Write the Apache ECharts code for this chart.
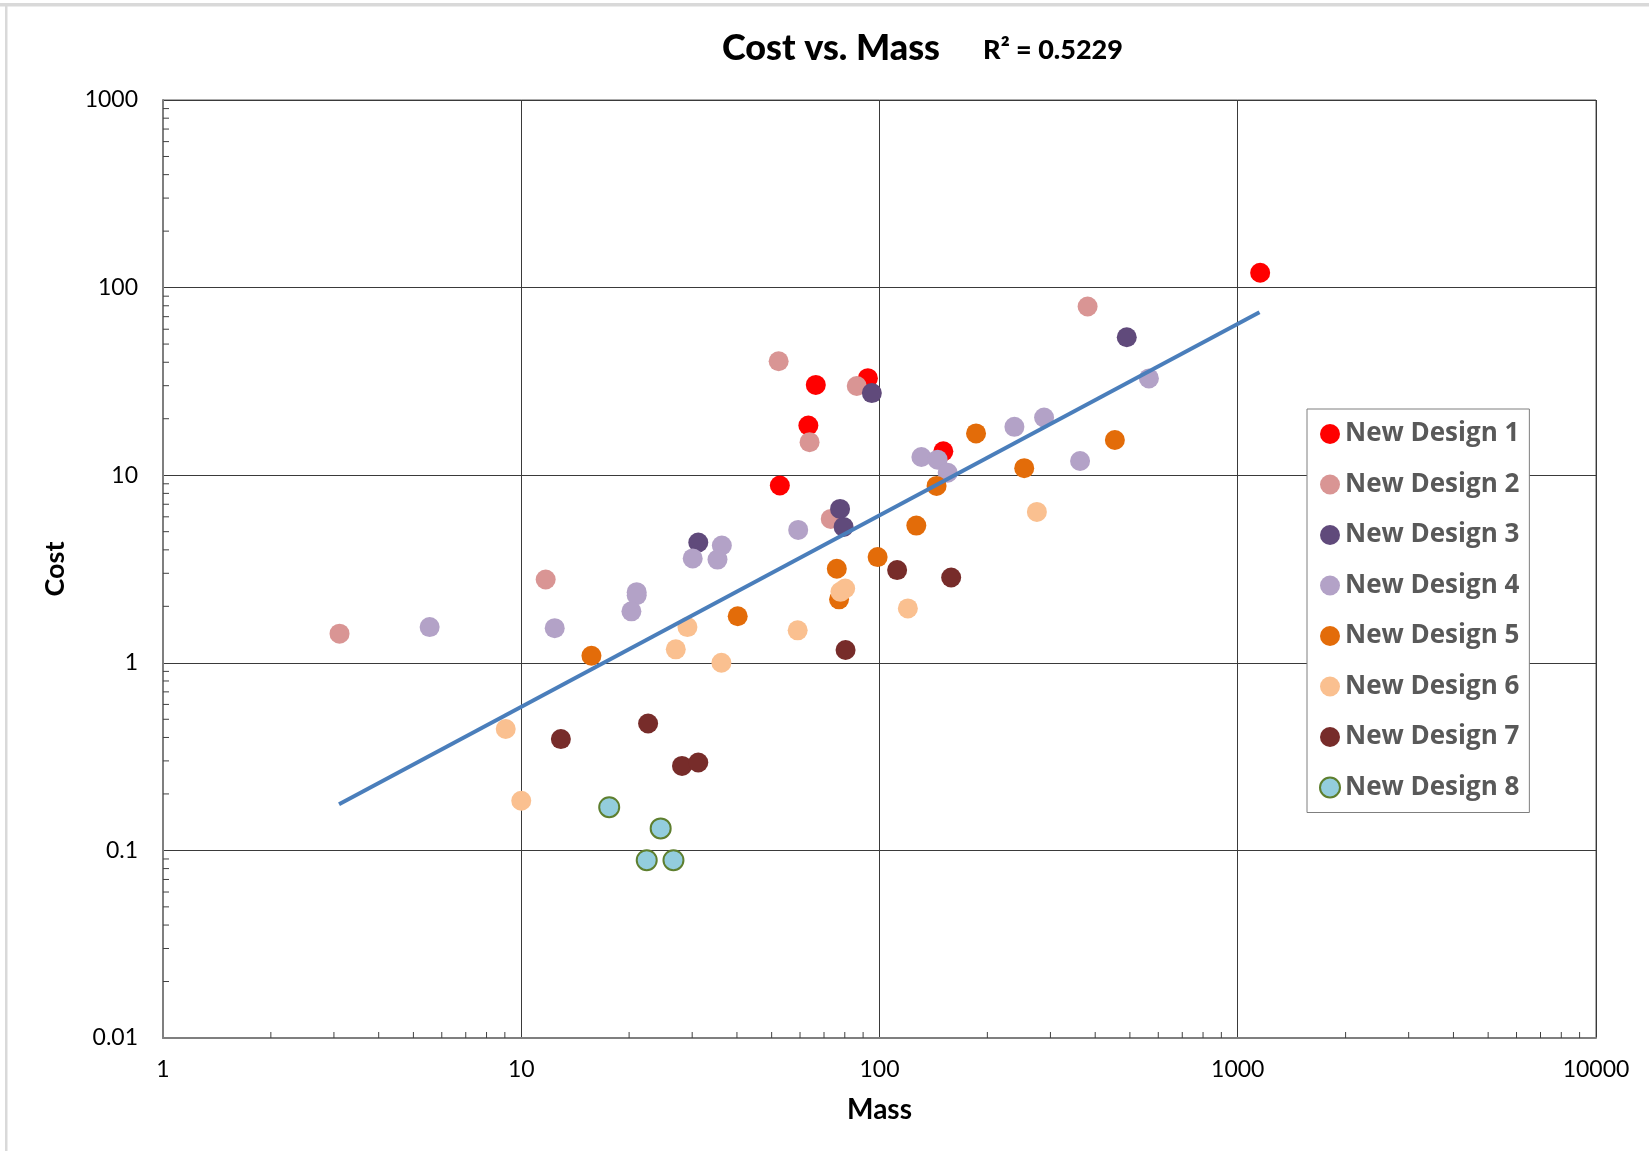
<!DOCTYPE html>
<html>
<head>
<meta charset="utf-8">
<script src="https://cdn.jsdelivr.net/npm/echarts@6/dist/echarts.min.js"></script>
<style>
html,body{margin:0;padding:0;background:#fff;}
#chart{width:1649px;height:1151px;}
</style>
</head>
<body>
<div id="chart"></div>
<script>
// ---- Data (Mass, Cost) ----
const seriesNames = ['New Design 1','New Design 2','New Design 3','New Design 4','New Design 5','New Design 6','New Design 7','New Design 8'];
const design1 = [[1155,120],[66.4,30.3],[92.8,32.9],[63.3,18.4],[150.7,13.4],[52.7,8.81]];
const design2 = [[3.11,1.43],[11.7,2.78],[381,79.3],[52.3,40.5],[86.4,29.9],[63.8,15.0],[73.1,5.85]];
const design3 = [[31.2,4.38],[490,54.4],[95.2,27.4],[77.6,6.61],[79.4,5.30]];
const design4 = [[5.55,1.55],[12.4,1.53],[21.0,2.38],[21.0,2.29],[20.3,1.88],[36.3,4.22],[30.1,3.60],[35.3,3.55],[565,32.8],[130.9,12.5],[145.3,12.1],[155,10.3],[238,18.1],[288,20.3],[363,11.9],[59.3,5.11]];
const design5 = [[15.7,1.09],[40.2,1.77],[144.3,8.77],[186,16.7],[454,15.4],[253.5,10.9],[126.7,5.39],[98.8,3.66],[76.0,3.17],[77.1,2.18]];
const design6 = [[29.1,1.55],[27.0,1.18],[36.2,1.0],[275,6.37],[80.2,2.49],[77.8,2.39],[120,1.95],[59.1,1.49],[9.05,0.444],[10.0,0.184]];
const design7 = [[112,3.12],[158.5,2.85],[80.4,1.17],[12.9,0.392],[22.6,0.475],[28.1,0.282],[31.2,0.294]];
const design8 = [[17.6,0.170],[24.5,0.131],[22.4,0.0887],[26.6,0.0887]];
const seriesData = [design1,design2,design3,design4,design5,design6,design7,design8];

// Power trend line endpoints, R² label
const trendMass = [3.1, 1150];
const trendCost = [0.176, 73.9];
const rSquaredText = 'R² = 0.5229';

// Axis tick labels
const xTicks = [1, 10, 100, 1000, 10000];
const yTicks = [0.01, 0.1, 1, 10, 100, 1000];

// ---- Styles ----
const colors = ['#FF0000','#D99594','#604A7B','#B3A2C7','#E36C09','#FAC090','#772C2A','#93CDDD'];

// minor tick positions (2..9 of each decade)
function minorTicks(lo, hi) {
  const out = [];
  for (let d = lo; d < hi; d *= 10) {
    for (let k = 2; k <= 9; k++) out.push(+(d * k).toPrecision(3));
  }
  return out;
}
const xMinor = minorTicks(xTicks[0], xTicks[xTicks.length - 1]);
const yMinor = minorTicks(yTicks[0], yTicks[yTicks.length - 1]);

const chart = echarts.init(document.getElementById('chart'), null, {renderer: 'canvas'});

const scatterSeries = seriesData.map((d, i) => ({
  name: seriesNames[i],
  type: 'scatter',
  data: d,
  symbol: 'circle',
  symbolSize: 20,
  itemStyle: i === 7
    ? {color: colors[i], borderColor: '#5E7F2F', borderWidth: 2, opacity: 1}
    : {color: colors[i], opacity: 1},
  z: 3,
  silent: true
}));

const fmt = v => String(+Number(v).toPrecision(4));

const option = {
  animation: false,
  backgroundColor: '#ffffff',
  textStyle: {fontFamily: 'Lato, "Open Sans", sans-serif'},
  grid: {left: 163, right: 53, top: 100, bottom: 113, show: true, borderColor: '#595959', borderWidth: 1, backgroundColor: 'transparent'},
  graphic: [
    {type: 'rect', shape: {x: 0, y: 3, width: 1649, height: 3.5}, style: {fill: '#d9d9d9'}, silent: true},
    {type: 'rect', shape: {x: 5, y: 3, width: 2.5, height: 1148}, style: {fill: '#d9d9d9'}, silent: true},
    {type: 'text', x: 831, y: 48, style: {text: 'Cost vs. Mass', font: '900 36px Lato', fill: '#000', textAlign: 'center', textVerticalAlign: 'middle'}},
    {type: 'text', x: 1053, y: 50, style: {text: rSquaredText, font: '900 27px Lato', fill: '#000', textAlign: 'center', textVerticalAlign: 'middle'}}
  ],
  legend: {
    data: seriesNames,
    orient: 'vertical',
    left: 1307,
    top: 409,
    backgroundColor: '#ffffff',
    borderColor: '#7f7f7f',
    borderWidth: 1,
    padding: [10, 10, 10, 12],
    itemWidth: 20,
    itemHeight: 20,
    itemGap: 20.5,
    icon: 'circle',
    textStyle: {fontFamily: '"Open Sans"', fontSize: 26, fontWeight: 'bold', color: '#595959', lineHeight: 30},
    z: 10
  },
  xAxis: {
    type: 'log',
    logBase: 10,
    min: xTicks[0],
    max: xTicks[xTicks.length - 1],
    name: 'Mass',
    nameLocation: 'middle',
    nameGap: 58,
    nameTextStyle: {fontSize: 28, fontWeight: 'bold', color: '#000', fontFamily: 'Lato'},
    axisLine: {show: true, lineStyle: {color: '#7f7f7f', width: 2}},
    axisTick: {show: false},
    axisLabel: {margin: 20, fontSize: 23, color: '#000', fontFamily: 'Lato', formatter: fmt},
    splitLine: {show: true, lineStyle: {color: '#3a3a3a', width: 1}}
  },
  yAxis: {
    type: 'log',
    logBase: 10,
    min: yTicks[0],
    max: yTicks[yTicks.length - 1],
    name: 'Cost',
    nameLocation: 'middle',
    nameRotate: 90,
    nameGap: 94,
    nameTextStyle: {fontSize: 27, fontWeight: 'bold', color: '#000', fontFamily: 'Lato'},
    axisLine: {show: true, lineStyle: {color: '#7f7f7f', width: 2}},
    axisTick: {show: false},
    axisLabel: {margin: 25, fontSize: 23, color: '#000', fontFamily: 'Lato', formatter: fmt},
    splitLine: {show: true, lineStyle: {color: '#3a3a3a', width: 1}}
  },
  series: [
    {
      type: 'custom',
      name: 'xMinor',
      silent: true,
      z: 1,
      data: xMinor.map(v => [v, yTicks[0]]),
      renderItem: (params, api) => {
        const p = api.coord([api.value(0), api.value(1)]);
        return {type: 'line', shape: {x1: p[0], y1: p[1], x2: p[0], y2: p[1] - 6}, style: {stroke: '#404040', lineWidth: 1}};
      }
    },
    {
      type: 'custom',
      name: 'yMinor',
      silent: true,
      z: 1,
      data: yMinor.map(v => [xTicks[0], v]),
      renderItem: (params, api) => {
        const p = api.coord([api.value(0), api.value(1)]);
        return {type: 'line', shape: {x1: p[0], y1: p[1], x2: p[0] + 6, y2: p[1]}, style: {stroke: '#404040', lineWidth: 1}};
      }
    },
    ...scatterSeries,
    {
      type: 'line',
      name: 'Trend',
      data: trendMass.map((m, i) => [m, trendCost[i]]),
      symbol: 'none',
      lineStyle: {color: '#4A7EBB', width: 4},
      z: 5,
      silent: true
    }
  ]
};
chart.setOption(option);
</script>
</body>
</html>
